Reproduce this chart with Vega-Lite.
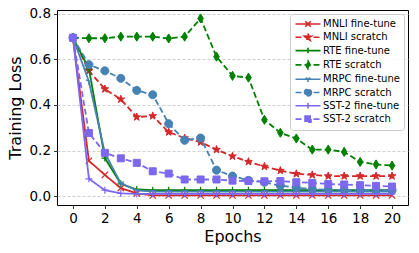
{
"$schema": "https://vega.github.io/schema/vega-lite/v6.json",
"width": 351, "height": 195,
"autosize": "none",
"padding": {"left": 57, "top": 10, "right": 11, "bottom": 48},
"background": "white",
"config": {
  "view": {"stroke": "black", "strokeWidth": 1},
  "font": "DejaVu Sans",
  "axis": {"labelFont": "DejaVu Sans", "labelFontSize": 13.5, "labelColor": "black", "titleFont": "DejaVu Sans", "titleFontSize": 16, "titleFontWeight": "normal", "titleColor": "black", "domain": false, "tickColor": "black", "tickSize": 3.5, "tickWidth": 0.8, "labelPadding": 3},
  "legend": {
    "orient": "top-right", "offset": 4, "fillColor": "rgba(255,255,255,0.85)", "strokeColor": "#cccccc", "cornerRadius": 3, "padding": 4,
    "labelFont": "DejaVu Sans", "labelFontSize": 10, "labelColor": "black",
    "symbolSize": 100, "symbolOffset": 8, "labelOffset": 9, "rowPadding": 0.3, "symbolOpacity": 1, "symbolStrokeWidth": 1.6
  }
},
"data": {"values": [
{"series":"MNLI fine-tune","epoch":0,"loss":0.695},{"series":"MNLI fine-tune","epoch":1,"loss":0.155},{"series":"MNLI fine-tune","epoch":2,"loss":0.093},{"series":"MNLI fine-tune","epoch":3,"loss":0.035},{"series":"MNLI fine-tune","epoch":4,"loss":0.012},{"series":"MNLI fine-tune","epoch":5,"loss":0.003},{"series":"MNLI fine-tune","epoch":6,"loss":0.003},{"series":"MNLI fine-tune","epoch":7,"loss":0.003},{"series":"MNLI fine-tune","epoch":8,"loss":0.003},{"series":"MNLI fine-tune","epoch":9,"loss":0.003},{"series":"MNLI fine-tune","epoch":10,"loss":0.003},{"series":"MNLI fine-tune","epoch":11,"loss":0.003},{"series":"MNLI fine-tune","epoch":12,"loss":0.003},{"series":"MNLI fine-tune","epoch":13,"loss":0.003},{"series":"MNLI fine-tune","epoch":14,"loss":0.003},{"series":"MNLI fine-tune","epoch":15,"loss":0.003},{"series":"MNLI fine-tune","epoch":16,"loss":0.003},{"series":"MNLI fine-tune","epoch":17,"loss":0.003},{"series":"MNLI fine-tune","epoch":18,"loss":0.003},{"series":"MNLI fine-tune","epoch":19,"loss":0.003},{"series":"MNLI fine-tune","epoch":20,"loss":0.003},
{"series":"MNLI scratch","epoch":0,"loss":0.695},{"series":"MNLI scratch","epoch":1,"loss":0.55},{"series":"MNLI scratch","epoch":2,"loss":0.47},{"series":"MNLI scratch","epoch":3,"loss":0.425},{"series":"MNLI scratch","epoch":4,"loss":0.347},{"series":"MNLI scratch","epoch":5,"loss":0.352},{"series":"MNLI scratch","epoch":6,"loss":0.281},{"series":"MNLI scratch","epoch":7,"loss":0.255},{"series":"MNLI scratch","epoch":8,"loss":0.237},{"series":"MNLI scratch","epoch":9,"loss":0.204},{"series":"MNLI scratch","epoch":10,"loss":0.175},{"series":"MNLI scratch","epoch":11,"loss":0.151},{"series":"MNLI scratch","epoch":12,"loss":0.13},{"series":"MNLI scratch","epoch":13,"loss":0.112},{"series":"MNLI scratch","epoch":14,"loss":0.098},{"series":"MNLI scratch","epoch":15,"loss":0.093},{"series":"MNLI scratch","epoch":16,"loss":0.088},{"series":"MNLI scratch","epoch":17,"loss":0.088},{"series":"MNLI scratch","epoch":18,"loss":0.088},{"series":"MNLI scratch","epoch":19,"loss":0.088},{"series":"MNLI scratch","epoch":20,"loss":0.088},
{"series":"RTE fine-tune","epoch":0,"loss":0.695},{"series":"RTE fine-tune","epoch":1,"loss":0.56},{"series":"RTE fine-tune","epoch":2,"loss":0.167},{"series":"RTE fine-tune","epoch":3,"loss":0.054},{"series":"RTE fine-tune","epoch":4,"loss":0.029},{"series":"RTE fine-tune","epoch":5,"loss":0.026},{"series":"RTE fine-tune","epoch":6,"loss":0.026},{"series":"RTE fine-tune","epoch":7,"loss":0.026},{"series":"RTE fine-tune","epoch":8,"loss":0.026},{"series":"RTE fine-tune","epoch":9,"loss":0.026},{"series":"RTE fine-tune","epoch":10,"loss":0.026},{"series":"RTE fine-tune","epoch":11,"loss":0.026},{"series":"RTE fine-tune","epoch":12,"loss":0.026},{"series":"RTE fine-tune","epoch":13,"loss":0.026},{"series":"RTE fine-tune","epoch":14,"loss":0.026},{"series":"RTE fine-tune","epoch":15,"loss":0.026},{"series":"RTE fine-tune","epoch":16,"loss":0.026},{"series":"RTE fine-tune","epoch":17,"loss":0.026},{"series":"RTE fine-tune","epoch":18,"loss":0.026},{"series":"RTE fine-tune","epoch":19,"loss":0.026},{"series":"RTE fine-tune","epoch":20,"loss":0.026},
{"series":"RTE scratch","epoch":0,"loss":0.695},{"series":"RTE scratch","epoch":1,"loss":0.693},{"series":"RTE scratch","epoch":2,"loss":0.693},{"series":"RTE scratch","epoch":3,"loss":0.7},{"series":"RTE scratch","epoch":4,"loss":0.7},{"series":"RTE scratch","epoch":5,"loss":0.7},{"series":"RTE scratch","epoch":6,"loss":0.692},{"series":"RTE scratch","epoch":7,"loss":0.7},{"series":"RTE scratch","epoch":8,"loss":0.78},{"series":"RTE scratch","epoch":9,"loss":0.612},{"series":"RTE scratch","epoch":10,"loss":0.528},{"series":"RTE scratch","epoch":11,"loss":0.52},{"series":"RTE scratch","epoch":12,"loss":0.335},{"series":"RTE scratch","epoch":13,"loss":0.278},{"series":"RTE scratch","epoch":14,"loss":0.253},{"series":"RTE scratch","epoch":15,"loss":0.204},{"series":"RTE scratch","epoch":16,"loss":0.204},{"series":"RTE scratch","epoch":17,"loss":0.194},{"series":"RTE scratch","epoch":18,"loss":0.15},{"series":"RTE scratch","epoch":19,"loss":0.139},{"series":"RTE scratch","epoch":20,"loss":0.134},
{"series":"MRPC fine-tune","epoch":0,"loss":0.695},{"series":"MRPC fine-tune","epoch":1,"loss":0.503},{"series":"MRPC fine-tune","epoch":2,"loss":0.19},{"series":"MRPC fine-tune","epoch":3,"loss":0.056},{"series":"MRPC fine-tune","epoch":4,"loss":0.025},{"series":"MRPC fine-tune","epoch":5,"loss":0.02},{"series":"MRPC fine-tune","epoch":6,"loss":0.02},{"series":"MRPC fine-tune","epoch":7,"loss":0.02},{"series":"MRPC fine-tune","epoch":8,"loss":0.02},{"series":"MRPC fine-tune","epoch":9,"loss":0.02},{"series":"MRPC fine-tune","epoch":10,"loss":0.02},{"series":"MRPC fine-tune","epoch":11,"loss":0.02},{"series":"MRPC fine-tune","epoch":12,"loss":0.02},{"series":"MRPC fine-tune","epoch":13,"loss":0.02},{"series":"MRPC fine-tune","epoch":14,"loss":0.02},{"series":"MRPC fine-tune","epoch":15,"loss":0.02},{"series":"MRPC fine-tune","epoch":16,"loss":0.02},{"series":"MRPC fine-tune","epoch":17,"loss":0.02},{"series":"MRPC fine-tune","epoch":18,"loss":0.02},{"series":"MRPC fine-tune","epoch":19,"loss":0.02},{"series":"MRPC fine-tune","epoch":20,"loss":0.02},
{"series":"MRPC scratch","epoch":0,"loss":0.695},{"series":"MRPC scratch","epoch":1,"loss":0.577},{"series":"MRPC scratch","epoch":2,"loss":0.55},{"series":"MRPC scratch","epoch":3,"loss":0.517},{"series":"MRPC scratch","epoch":4,"loss":0.464},{"series":"MRPC scratch","epoch":5,"loss":0.445},{"series":"MRPC scratch","epoch":6,"loss":0.318},{"series":"MRPC scratch","epoch":7,"loss":0.245},{"series":"MRPC scratch","epoch":8,"loss":0.255},{"series":"MRPC scratch","epoch":9,"loss":0.114},{"series":"MRPC scratch","epoch":10,"loss":0.088},{"series":"MRPC scratch","epoch":11,"loss":0.069},{"series":"MRPC scratch","epoch":12,"loss":0.061},{"series":"MRPC scratch","epoch":13,"loss":0.046},{"series":"MRPC scratch","epoch":14,"loss":0.037},{"series":"MRPC scratch","epoch":15,"loss":0.031},{"series":"MRPC scratch","epoch":16,"loss":0.028},{"series":"MRPC scratch","epoch":17,"loss":0.027},{"series":"MRPC scratch","epoch":18,"loss":0.026},{"series":"MRPC scratch","epoch":19,"loss":0.026},{"series":"MRPC scratch","epoch":20,"loss":0.026},
{"series":"SST-2 fine-tune","epoch":0,"loss":0.695},{"series":"SST-2 fine-tune","epoch":1,"loss":0.076},{"series":"SST-2 fine-tune","epoch":2,"loss":0.026},{"series":"SST-2 fine-tune","epoch":3,"loss":0.012},{"series":"SST-2 fine-tune","epoch":4,"loss":0.01},{"series":"SST-2 fine-tune","epoch":5,"loss":0.01},{"series":"SST-2 fine-tune","epoch":6,"loss":0.01},{"series":"SST-2 fine-tune","epoch":7,"loss":0.01},{"series":"SST-2 fine-tune","epoch":8,"loss":0.01},{"series":"SST-2 fine-tune","epoch":9,"loss":0.01},{"series":"SST-2 fine-tune","epoch":10,"loss":0.01},{"series":"SST-2 fine-tune","epoch":11,"loss":0.01},{"series":"SST-2 fine-tune","epoch":12,"loss":0.01},{"series":"SST-2 fine-tune","epoch":13,"loss":0.01},{"series":"SST-2 fine-tune","epoch":14,"loss":0.01},{"series":"SST-2 fine-tune","epoch":15,"loss":0.01},{"series":"SST-2 fine-tune","epoch":16,"loss":0.01},{"series":"SST-2 fine-tune","epoch":17,"loss":0.01},{"series":"SST-2 fine-tune","epoch":18,"loss":0.01},{"series":"SST-2 fine-tune","epoch":19,"loss":0.01},{"series":"SST-2 fine-tune","epoch":20,"loss":0.01},
{"series":"SST-2 scratch","epoch":0,"loss":0.695},{"series":"SST-2 scratch","epoch":1,"loss":0.277},{"series":"SST-2 scratch","epoch":2,"loss":0.19},{"series":"SST-2 scratch","epoch":3,"loss":0.166},{"series":"SST-2 scratch","epoch":4,"loss":0.146},{"series":"SST-2 scratch","epoch":5,"loss":0.109},{"series":"SST-2 scratch","epoch":6,"loss":0.099},{"series":"SST-2 scratch","epoch":7,"loss":0.073},{"series":"SST-2 scratch","epoch":8,"loss":0.073},{"series":"SST-2 scratch","epoch":9,"loss":0.073},{"series":"SST-2 scratch","epoch":10,"loss":0.068},{"series":"SST-2 scratch","epoch":11,"loss":0.066},{"series":"SST-2 scratch","epoch":12,"loss":0.065},{"series":"SST-2 scratch","epoch":13,"loss":0.066},{"series":"SST-2 scratch","epoch":14,"loss":0.061},{"series":"SST-2 scratch","epoch":15,"loss":0.058},{"series":"SST-2 scratch","epoch":16,"loss":0.053},{"series":"SST-2 scratch","epoch":17,"loss":0.051},{"series":"SST-2 scratch","epoch":18,"loss":0.048},{"series":"SST-2 scratch","epoch":19,"loss":0.045},{"series":"SST-2 scratch","epoch":20,"loss":0.042}
]},
"encoding": {
  "x": {"field": "epoch", "type": "quantitative", "scale": {"domain": [-1, 21], "nice": false, "zero": false}, "axis": {"values": [0,2,4,6,8,10,12,14,16,18,20], "grid": false, "title": "Epochs", "titlePadding": 3}},
  "y": {"field": "loss", "type": "quantitative", "scale": {"domain": [-0.039, 0.817], "nice": false, "zero": false}, "axis": {"values": [0,0.2,0.4,0.6,0.8], "format": ".1f", "grid": true, "gridColor": "#c4c4c4", "gridDash": [3,2], "gridWidth": 0.8, "title": "Training Loss", "titlePadding": 6}}
},
"layer": [
  {"transform": [{"filter": "datum.series == 'MNLI fine-tune'"}], "layer": [
    {"mark": {"type": "line", "stroke": "#d62728", "strokeWidth": 1.8}},
    {"mark": {"type": "point", "shape": "M-0.9,-0.9L0.9,0.9M-0.9,0.9L0.9,-0.9", "filled": true, "fill": "#d62728", "stroke": "#d62728", "opacity": 1, "size": 49, "strokeWidth": 1.2}}]},
  {"transform": [{"filter": "datum.series == 'MNLI scratch'"}], "layer": [
    {"mark": {"type": "line", "stroke": "#d62728", "strokeWidth": 1.8, "strokeDash": [6,3]}},
    {"mark": {"type": "point", "shape": "M0,-1.15L0.27,-0.372L1.094,-0.355L0.437,0.142L0.676,0.93L0,0.46L-0.676,0.93L-0.437,0.142L-1.094,-0.355L-0.27,-0.372Z", "filled": true, "fill": "#d62728", "stroke": "#d62728", "opacity": 1, "size": 49, "strokeWidth": 1}}]},
  {"transform": [{"filter": "datum.series == 'RTE fine-tune'"}], "layer": [
    {"mark": {"type": "line", "stroke": "#008000", "strokeWidth": 1.8}},
    {"mark": {"type": "point", "shape": "M-1,0L1,0M0,-1L0,1", "filled": true, "fill": "#008000", "stroke": "#008000", "opacity": 1, "size": 49, "strokeWidth": 1.2}}]},
  {"transform": [{"filter": "datum.series == 'RTE scratch'"}], "layer": [
    {"mark": {"type": "line", "stroke": "#008000", "strokeWidth": 1.8, "strokeDash": [6,3]}},
    {"mark": {"type": "point", "shape": "M0,-1.3L0.8,0L0,1.3L-0.8,0Z", "filled": true, "fill": "#008000", "stroke": "#008000", "opacity": 1, "size": 49, "strokeWidth": 1}}]},
  {"transform": [{"filter": "datum.series == 'MRPC fine-tune'"}], "layer": [
    {"mark": {"type": "line", "stroke": "#4682b4", "strokeWidth": 1.8}},
    {"mark": {"type": "point", "shape": "M0,0L0,1M0,0L-0.87,-0.5M0,0L0.87,-0.5", "filled": true, "fill": "#4682b4", "stroke": "#4682b4", "opacity": 1, "size": 49, "strokeWidth": 1.2}}]},
  {"transform": [{"filter": "datum.series == 'MRPC scratch'"}], "layer": [
    {"mark": {"type": "line", "stroke": "#4682b4", "strokeWidth": 1.8, "strokeDash": [6,3]}},
    {"mark": {"type": "point", "shape": "M1.15,0A1.15,1.15 0 1,1 -1.15,0A1.15,1.15 0 1,1 1.15,0Z", "filled": true, "fill": "#4682b4", "stroke": "#4682b4", "opacity": 1, "size": 49, "strokeWidth": 1}}]},
  {"transform": [{"filter": "datum.series == 'SST-2 fine-tune'"}], "layer": [
    {"mark": {"type": "line", "stroke": "#7b68ee", "strokeWidth": 1.8}},
    {"mark": {"type": "point", "shape": "M-1,0L1,0M0,-1L0,1", "filled": true, "fill": "#7b68ee", "stroke": "#7b68ee", "opacity": 1, "size": 49, "strokeWidth": 1.2}}]},
  {"transform": [{"filter": "datum.series == 'SST-2 scratch'"}], "layer": [
    {"mark": {"type": "line", "stroke": "#7b68ee", "strokeWidth": 1.8, "strokeDash": [6,3]}},
    {"mark": {"type": "point", "shape": "M-1,-1L1,-1L1,1L-1,1Z", "filled": true, "fill": "#7b68ee", "stroke": "#7b68ee", "opacity": 1, "size": 49, "strokeWidth": 1}}]},
  {
    "transform": [{"filter": "datum.epoch < 0"}],
    "mark": {"type": "point", "filled": true, "opacity": 1},
    "encoding": {
      "fill": {"field": "series", "type": "nominal",
        "scale": {"domain": ["MNLI fine-tune","MNLI scratch","RTE fine-tune","RTE scratch","MRPC fine-tune","MRPC scratch","SST-2 fine-tune","SST-2 scratch"],
                  "range": ["#d62728","#d62728","#008000","#008000","#4682b4","#4682b4","#7b68ee","#7b68ee"]},
        "legend": {"title": null}},
      "stroke": {"field": "series", "type": "nominal",
        "scale": {"domain": ["MNLI fine-tune","MNLI scratch","RTE fine-tune","RTE scratch","MRPC fine-tune","MRPC scratch","SST-2 fine-tune","SST-2 scratch"],
                  "range": ["#d62728","#d62728","#008000","#008000","#4682b4","#4682b4","#7b68ee","#7b68ee"]},
        "legend": {"title": null}},
      "strokeDash": {"field": "series", "type": "nominal",
        "scale": {"domain": ["MNLI fine-tune","MNLI scratch","RTE fine-tune","RTE scratch","MRPC fine-tune","MRPC scratch","SST-2 fine-tune","SST-2 scratch"],
                  "range": [[1,0],[6,3],[1,0],[6,3],[1,0],[6,3],[1,0],[6,3]]},
        "legend": {"title": null}},
      "shape": {"field": "series", "type": "nominal",
        "scale": {"domain": ["MNLI fine-tune","MNLI scratch","RTE fine-tune","RTE scratch","MRPC fine-tune","MRPC scratch","SST-2 fine-tune","SST-2 scratch"],
                  "range": ["M-2.5,0L2.5,0M-0.55,-0.55L0.55,0.55M-0.55,0.55L0.55,-0.55",
                            "M-2.5,0L2.5,0M0,-0.75L0.176,-0.243L0.713,-0.232L0.285,0.093L0.441,0.607L0,0.3L-0.441,0.607L-0.285,0.093L-0.713,-0.232L-0.176,-0.243Z",
                            "M-2.5,0L2.5,0M0,-0.55L0,0.55",
                            "M-2.5,0L2.5,0M0,-0.8L0.45,0L0,0.8L-0.45,0Z",
                            "M-2.5,0L2.5,0M0,0L0,0.55M0,0L-0.48,-0.28M0,0L0.48,-0.28",
                            "M-2.5,0L2.5,0M0.7,0A0.7,0.7 0 1,1 -0.7,0A0.7,0.7 0 1,1 0.7,0Z",
                            "M-2.5,0L2.5,0M0,-0.55L0,0.55",
                            "M-2.5,0L2.5,0M-0.6,-0.6L0.6,-0.6L0.6,0.6L-0.6,0.6Z"]},
        "legend": {"title": null}}
    }
  }
]
}
